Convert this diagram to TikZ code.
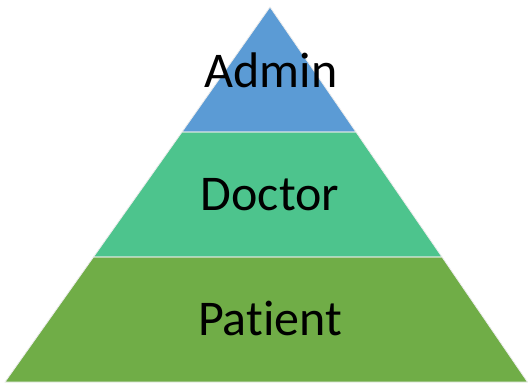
\documentclass[tikz,border=0pt]{standalone}
\usepackage{fontspec}
\setmainfont[Ligatures=NoCommon]{Carlito}
\definecolor{topc}{HTML}{5B9BD5}
\definecolor{midc}{HTML}{4DC48D}
\definecolor{botc}{HTML}{70AD47}
\begin{document}
\begin{tikzpicture}[x=1pt,y=-1pt,
  tier/.style={draw=white!85!gray,line width=0.8pt,line join=miter},
  lbl/.style={font=\fontsize{50}{50}\selectfont,anchor=base,inner sep=0pt,text=black}]
\useasboundingbox (0,0) rectangle (528,386);
\coordinate (apex) at (270,7);
\coordinate (l1) at (182,132);
\coordinate (r1) at (356,132);
\coordinate (l2) at (93.5,257);
\coordinate (r2) at (442,257);
\coordinate (bl) at (5,382);
\coordinate (br) at (527.5,382);
\fill[topc] (apex) -- (r1) -- (l1) -- cycle;
\fill[midc] (l1) -- (r1) -- (r2) -- (l2) -- cycle;
\fill[botc] (l2) -- (r2) -- (br) -- (bl) -- cycle;
\draw[tier] (apex) -- (r1) -- (l1) -- cycle;
\draw[tier] (l1) -- (r1) -- (r2) -- (l2) -- cycle;
\draw[tier] (l2) -- (r2) -- (br) -- (bl) -- cycle;
\node[lbl] (admin) at (271,87) {Admin};
\node[lbl] (doctor) at (270,210) {Doctor};
\node[lbl] (patient) at (270,335) {Patient};
\end{tikzpicture}
\end{document}
